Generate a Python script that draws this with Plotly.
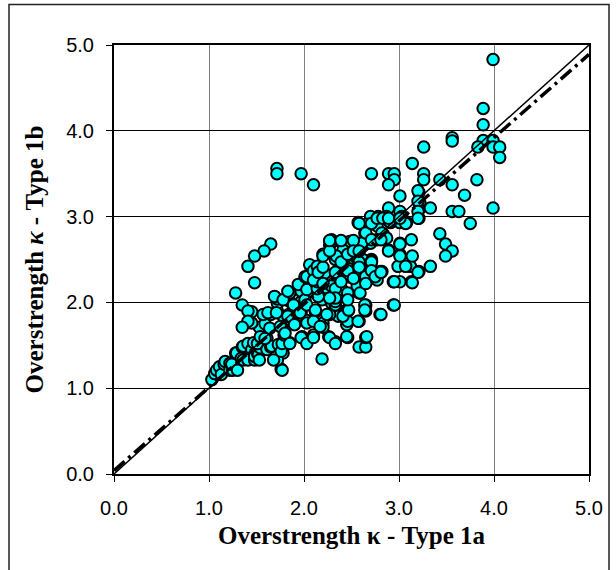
import plotly.graph_objects as go

# Overstrength kappa: Type 1a (x) vs Type 1b (y)
kappa_1a = [
    1.03, 1.06, 1.08, 1.11, 1.13, 1.16, 1.17, 1.22, 1.22, 1.25, 1.24, 1.28, 1.29, 1.30, 1.34, 1.35,
    1.36, 1.36, 1.41, 1.41, 1.45, 1.47, 1.48, 1.48, 1.51, 1.52, 1.53, 1.54, 1.51, 1.55, 1.53, 1.61,
    1.61, 1.65, 1.66, 1.73, 1.78, 1.76, 1.77, 1.72, 1.68, 1.83, 1.85, 1.76, 1.77, 1.79, 1.59, 1.65,
    1.72, 1.72, 1.72, 1.78, 1.77, 1.84, 1.85, 1.85, 1.90, 1.91, 1.97, 1.97, 1.97, 2.03, 1.45, 1.45,
    1.54, 1.57, 1.59, 1.62, 1.64, 1.69, 1.71, 1.75, 1.78, 1.80, 1.83, 1.83, 1.89, 1.90, 1.94, 1.96,
    1.98, 2.01, 2.03, 2.08, 2.10, 2.12, 2.15, 2.19, 2.19, 2.20, 2.24, 2.26, 2.29, 2.33, 2.34, 2.36,
    2.40, 2.45, 2.45,
    1.715, 1.715, 1.97, 2.10, 1.65, 1.58, 1.48, 1.41, 1.48, 1.28, 1.35, 1.41, 1.41, 1.35,
    1.85, 1.97, 2.03, 2.10, 2.27, 2.33, 2.46, 2.58, 2.65, 2.65, 2.20, 2.27, 2.46, 2.58, 2.46, 2.65,
    2.65, 2.58, 2.33, 2.10,
    2.01, 2.03, 2.03, 2.06, 2.12, 2.12, 2.15, 2.17, 2.20, 2.22, 2.24, 2.27, 2.29, 2.33, 2.33, 2.34,
    2.38, 2.40, 2.41, 2.45, 2.47, 2.47, 2.45, 2.52, 2.56, 2.57, 2.59, 2.62, 2.64, 2.64, 2.66, 2.70,
    2.71, 2.75, 2.80, 2.82, 2.89, 2.94, 2.94,
    3.01, 3.21, 3.22, 3.21, 3.01, 3.03, 3.08, 3.01, 3.21, 2.89, 2.87, 2.78, 2.73, 2.70, 2.57, 2.66,
    2.77, 2.91, 2.82, 2.64, 2.68, 2.77, 2.87, 3.01, 3.13, 3.01, 2.99, 3.12, 3.21, 3.01, 3.13, 2.61,
    2.48, 2.41, 2.29, 2.34, 2.50, 2.62, 2.71, 2.80, 2.70, 2.59, 2.40, 2.54, 2.64, 2.77,
    2.03, 2.10, 2.14, 2.14, 2.14, 2.10, 2.15, 2.20, 2.20, 2.20, 2.27, 2.27, 2.33, 2.33, 2.33, 2.27,
    2.39, 2.39, 2.39, 2.46, 2.46, 2.46, 2.46, 2.52, 2.52, 2.52, 2.58, 2.58, 2.58, 2.58, 2.65, 2.65,
    2.65, 2.71, 2.71, 2.71, 2.71, 2.75, 2.77, 2.81, 2.83, 2.90,
    3.99, 3.886, 3.886, 3.886, 3.99, 3.56, 3.56, 3.83, 3.99, 4.06, 4.06, 3.26, 3.14, 3.26, 3.26, 3.43,
    3.82, 3.56, 3.69, 3.99, 3.56, 3.63, 3.75, 3.43, 3.49, 3.56, 3.49, 3.33, 3.14, 3.20, 3.14, 3.07,
    3.01, 2.95, 2.95, 3.07, 3.01, 3.20, 3.20, 3.20, 3.20, 3.33, 2.89, 2.95, 2.95, 2.89, 2.89, 2.71,
    2.89, 2.81, 2.81, 3.01,
]
kappa_1b = [
    1.10, 1.17, 1.21, 1.25, 1.16, 1.28, 1.31, 1.29, 1.21, 1.21, 1.28, 1.41, 1.41, 1.21, 1.35, 1.48,
    1.33, 1.49, 1.33, 1.52, 1.45, 1.53, 1.33, 1.37, 1.41, 1.39, 1.33, 1.47, 1.52, 1.62, 1.71, 1.58,
    1.45, 1.48, 1.49, 1.51, 1.41, 1.22, 1.21, 1.33, 1.33, 1.53, 1.53, 1.43, 1.52, 1.62, 1.75, 1.86,
    1.90, 1.99, 2.04, 1.84, 1.71, 1.86, 2.01, 2.11, 1.75, 1.96, 1.88, 2.01, 2.13, 1.79, 1.89, 1.76,
    1.60, 1.86, 1.58, 1.88, 1.70, 2.07, 1.88, 1.72, 2.03, 1.64, 2.13, 1.84, 1.97, 1.74, 2.21, 1.88,
    1.60, 2.03, 1.76, 2.13, 1.62, 1.89, 2.23, 2.03, 1.34, 1.76, 2.17, 1.60, 1.99, 1.54, 2.21, 1.84,
    2.09, 1.91, 1.74,
    3.56, 3.50, 3.50, 3.37, 2.68, 2.60, 2.54, 2.42, 2.23, 2.11, 1.97, 1.90, 1.78, 1.71,
    1.52, 1.59, 1.52, 1.59, 1.59, 1.52, 1.59, 1.48, 1.48, 1.59, 1.71, 1.86, 1.78, 1.78, 1.90, 1.90,
    1.97, 2.11, 1.97, 1.78,
    2.30, 2.15, 1.97, 2.44, 2.23, 1.91, 2.07, 1.72, 2.56, 2.34, 1.86, 2.67, 2.19, 2.50, 2.01, 2.34,
    2.71, 2.15, 1.84, 2.44, 2.30, 1.91, 1.60, 2.61, 2.19, 1.78, 2.11, 2.36, 1.97, 1.91, 1.60, 2.69,
    2.50, 2.28, 1.86, 2.36, 2.61, 2.24, 1.97,
    3.24, 3.28, 3.16, 3.08, 3.06, 3.00, 2.93, 2.93, 2.98, 3.10, 3.00, 3.00, 2.93, 3.00, 2.93, 2.91,
    2.89, 2.93, 2.81, 2.81, 2.75, 2.73, 2.75, 2.69, 2.73, 2.56, 2.42, 2.42, 2.36, 2.24, 2.24, 2.69,
    2.71, 2.61, 2.73, 2.54, 2.52, 2.50, 2.48, 2.36, 2.38, 2.38, 2.42, 2.32, 2.28, 2.26,
    2.30, 2.37, 2.42, 2.16, 2.24, 2.26, 2.35, 2.22, 2.41, 2.54, 2.60, 2.72, 2.35, 2.16, 2.05, 2.05,
    2.72, 2.47, 2.24, 2.37, 2.56, 2.11, 2.03, 2.72, 2.60, 2.28, 2.47, 2.41, 2.60, 2.92, 2.81, 2.30,
    2.22, 2.92, 2.73, 2.47, 2.37, 2.30, 2.98, 2.73, 2.98, 2.94,
    4.83, 4.26, 4.07, 3.886, 3.886, 3.92, 3.88, 3.81, 3.81, 3.81, 3.69, 3.81, 3.62, 3.50, 3.43, 3.43,
    3.43, 3.37, 3.25, 3.10, 3.06, 3.06, 2.92, 2.80, 2.68, 2.60, 2.54, 2.42, 2.54, 2.35, 2.23, 2.42,
    2.54, 2.24, 1.97, 2.92, 2.68, 3.30, 3.18, 3.06, 2.98, 3.10, 3.50, 3.50, 3.43, 3.37, 2.98, 3.50,
    2.60, 2.35, 1.86, 2.98,
]

# Reference lines: equality line and fitted trend line
line_x = [0.0, 5.0]
fit_slope = 0.97
fit_intercept = 0.04

axis_ticks = [0, 1, 2, 3, 4, 5]
axis_ticklabels = ["0.0", "1.0", "2.0", "3.0", "4.0", "5.0"]

fig = go.Figure()
fig.add_trace(go.Scatter(
    x=kappa_1a, y=kappa_1b, mode="markers",
    marker=dict(color="#00FFFF", size=11.5, line=dict(color="black", width=2)),
    showlegend=False, cliponaxis=False,
))
fig.add_trace(go.Scatter(
    x=line_x, y=line_x, mode="lines",
    line=dict(color="black", width=1.5), showlegend=False,
))
fig.add_trace(go.Scatter(
    x=line_x, y=[fit_intercept + fit_slope * v for v in line_x], mode="lines",
    line=dict(color="black", width=3.5, dash="14px,5px,3px,5px"), showlegend=False,
))

tickfont = dict(family="Liberation Sans, Arial", size=20, color="black")
titlefont = dict(family="Liberation Serif, Times New Roman", size=25, color="black")

fig.update_layout(
    width=616, height=570,
    margin=dict(l=114, r=27, t=45, b=96),
    paper_bgcolor="white", plot_bgcolor="white",
    xaxis=dict(
        range=[0, 5], tickvals=axis_ticks, ticktext=axis_ticklabels,
        showgrid=True, gridcolor="#808080", gridwidth=1,
        showline=True, linecolor="black", linewidth=2, mirror=True,
        ticks="outside", ticklen=6, tickcolor="black", tickwidth=1,
        tickfont=tickfont, ticklabelstandoff=9, zeroline=False,
        title=dict(text="<b>Overstrength κ - Type 1a</b>", font=titlefont, standoff=8),
    ),
    yaxis=dict(
        range=[0, 5], tickvals=axis_ticks, ticktext=axis_ticklabels,
        showgrid=True, gridcolor="black", gridwidth=1,
        showline=True, linecolor="black", linewidth=2, mirror=True,
        ticks="outside", ticklen=6, tickcolor="black", tickwidth=1,
        tickfont=tickfont, ticklabelstandoff=8, zeroline=False,
        title=dict(text="<b>Overstrength <i>κ</i> - Type 1b</b>", font=titlefont, standoff=15),
    ),
    shapes=[dict(
        type="rect", xref="paper", yref="paper",
        x0=(9 - 114) / 475, x1=(609 - 114) / 475,
        y0=(474 - 572) / 428.5, y1=(474 - 5) / 428.5,
        line=dict(color="#222222", width=1.5), fillcolor="rgba(0,0,0,0)", layer="below",
    )],
)

fig.write_html("out.html")
